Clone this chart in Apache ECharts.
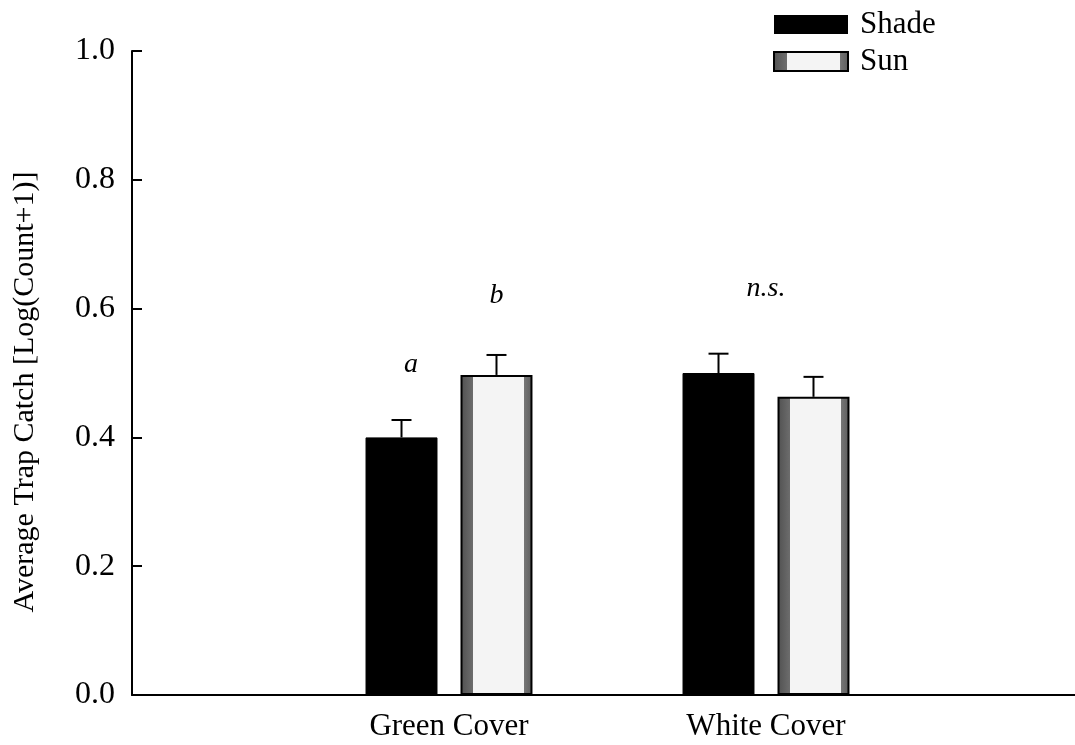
<!DOCTYPE html>
<html>
<head>
<meta charset="utf-8">
<script src="https://cdn.jsdelivr.net/npm/echarts@6/dist/echarts.min.js"></script>
<style>
  html, body { margin: 0; padding: 0; background: #fff; }
  #chart { width: 1075px; height: 745px; }
</style>
</head>
<body>
<div id="chart"></div>
<script>
// Trap catch by cover colour, shade vs sun (mean + SE)
const categories = ['Green Cover', 'White Cover'];
const shadeMean = [0.400, 0.500];
const shadeSE = [0.027, 0.030];
const sunMean = [0.497, 0.463];
const sunSE = [0.031, 0.031];
const yTicks = [0.0, 0.2, 0.4, 0.6, 0.8, 1.0];

// significance letters: text, category index, bar slot (-1 shade, +1 sun), height
const letters = ['a', 'b', 'n.s.'];
const letterCat = [0, 0, 1];
const letterSlot = [-0.8, 1, 0];
const letterY = [0.491, 0.599, 0.609];

const FONT = '"Liberation Serif", "Times New Roman", serif';
const BAR_RATIO = 0.227;  // bar width as a share of the category band
const GAP_RATIO = 0.32;   // gap between paired bars, share of bar width
const CAP_RATIO = 0.063;  // error-bar cap width, share of the band

// padded category list so the two groups sit at 1/3 and 2/3 of the axis
const axisCats = [''].concat(categories, [' ']);

const sunFill = {
  type: 'linear', x: 0, y: 0, x2: 1, y2: 0,
  colorStops: [
    { offset: 0.00, color: '#505050' },
    { offset: 0.18, color: '#6e6e6e' },
    { offset: 0.18, color: '#f4f4f4' },
    { offset: 0.88, color: '#f4f4f4' },
    { offset: 0.88, color: '#777777' },
    { offset: 1.00, color: '#5c5c5c' }
  ]
};

function slotStep(api) {
  const band = api.size([1, 0])[0];
  return { band: band, step: band * BAR_RATIO * (1 + GAP_RATIO) / 2 };
}

function renderErr(params, api) {
  const cat = api.value(0), mean = api.value(1), se = api.value(2), slot = api.value(3);
  const s = slotStep(api);
  const base = api.coord([cat, mean]);
  const top = api.coord([cat, mean + se]);
  const x = base[0] + slot * s.step;
  const half = s.band * CAP_RATIO / 2;
  const st = { stroke: '#000', lineWidth: 2 };
  return {
    type: 'group',
    children: [
      { type: 'line', shape: { x1: x, y1: base[1], x2: x, y2: top[1] }, style: st },
      { type: 'line', shape: { x1: x - half, y1: top[1], x2: x + half, y2: top[1] }, style: st }
    ]
  };
}

function renderLetter(params, api) {
  const cat = api.value(0), yv = api.value(1), slot = api.value(2);
  const s = slotStep(api);
  const p = api.coord([cat, yv]);
  return {
    type: 'text',
    x: p[0] + slot * s.step,
    y: p[1],
    style: {
      text: letters[params.dataIndex],
      font: 'italic 28px ' + FONT,
      fill: '#000',
      align: 'center',
      verticalAlign: 'bottom'
    }
  };
}

const errData = [];
categories.forEach((c, i) => {
  errData.push([i + 1, shadeMean[i], shadeSE[i], -1]);
  errData.push([i + 1, sunMean[i], sunSE[i], 1]);
});
const letterData = letters.map((t, i) => [letterCat[i] + 1, letterY[i], letterSlot[i]]);

const chart = echarts.init(document.getElementById('chart'));
chart.setOption({
  animation: false,
  backgroundColor: '#fff',
  textStyle: { fontFamily: FONT, color: '#000' },
  grid: { left: 132, right: -8, top: 51, bottom: 50, containLabel: false, outerBoundsMode: 'none' },
  legend: {
    orient: 'vertical',
    left: 768,
    top: 4,
    itemWidth: 74,
    itemHeight: 19,
    itemGap: 6,
    icon: 'rect',
    textStyle: { fontFamily: FONT, fontSize: 31, color: '#000', padding: [0, 0, 0, 7] },
    data: [
      { name: 'Shade', itemStyle: { color: '#000', borderWidth: 0 } },
      { name: 'Sun', itemStyle: { color: sunFill, borderColor: '#000', borderWidth: 2 } }
    ]
  },
  xAxis: {
    type: 'category',
    data: axisCats,
    boundaryGap: false,
    axisLine: { lineStyle: { color: '#000', width: 2 } },
    axisTick: { show: false },
    axisLabel: { interval: 0, fontFamily: FONT, fontSize: 31, color: '#000', margin: 16 },
    splitLine: { show: false }
  },
  yAxis: {
    type: 'value',
    min: yTicks[0],
    max: yTicks[yTicks.length - 1],
    interval: yTicks[1] - yTicks[0],
    name: 'Average Trap Catch [Log(Count+1)]',
    nameLocation: 'middle',
    nameGap: 92,
    nameTextStyle: { fontFamily: FONT, fontSize: 30, color: '#000', padding: [0, 38, 0, 0] },
    axisLine: { show: true, lineStyle: { color: '#000', width: 2 } },
    axisTick: { show: true, inside: true, length: 10, lineStyle: { color: '#000', width: 2 } },
    axisLabel: { fontFamily: FONT, fontSize: 32, color: '#000', margin: 17, formatter: v => v.toFixed(1) },
    splitLine: { show: false }
  },
  series: [
    {
      name: 'Shade',
      type: 'bar',
      barWidth: (BAR_RATIO * 100) + '%',
      barGap: (GAP_RATIO * 100) + '%',
      itemStyle: { color: '#000', borderColor: '#000', borderWidth: 1 },
      data: shadeMean.map((v, i) => [i + 1, v])
    },
    {
      name: 'Sun',
      type: 'bar',
      barWidth: (BAR_RATIO * 100) + '%',
      barGap: (GAP_RATIO * 100) + '%',
      itemStyle: { color: sunFill, borderColor: '#000', borderWidth: 2 },
      data: sunMean.map((v, i) => [i + 1, v])
    },
    {
      name: 'SE',
      type: 'custom',
      renderItem: renderErr,
      data: errData,
      z: 5,
      silent: true
    },
    {
      name: 'Letters',
      type: 'custom',
      renderItem: renderLetter,
      data: letterData,
      z: 6,
      silent: true
    }
  ]
});
</script>
</body>
</html>
